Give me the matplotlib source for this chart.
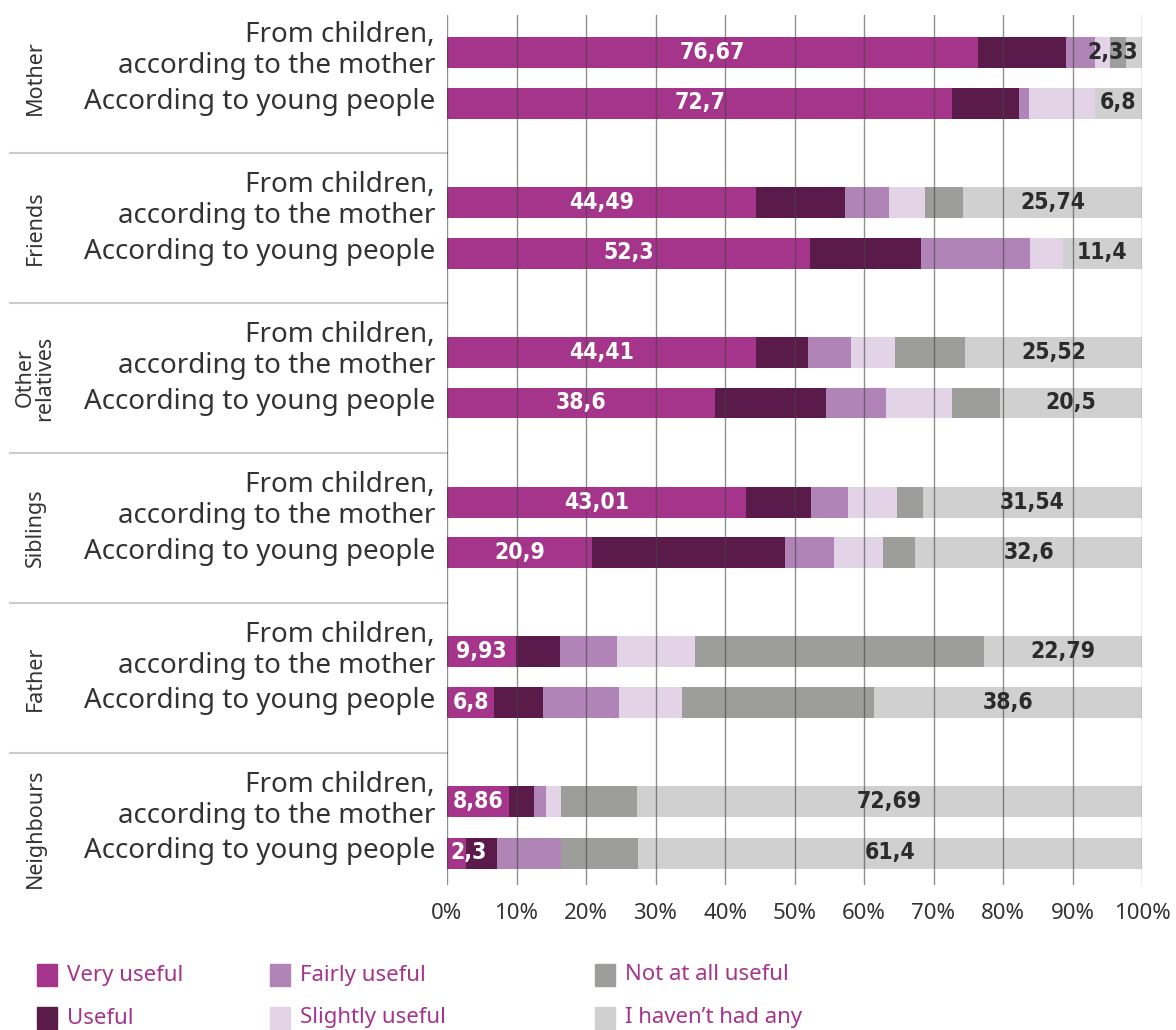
import numpy as np
import matplotlib
matplotlib.use('Agg')
import matplotlib.pyplot as plt
from matplotlib.patches import Rectangle
import matplotlib.transforms as mtransforms

# ─── data ─────────────────────────────────────────────────────────────────
groups = ["Mother", "Friends", "Other\nrelatives", "Siblings", "Father", "Neighbours"]
sub_labels = ["From children,\naccording to the mother", "According to young people"]
categories = ["Very useful", "Useful", "Fairly useful", "Slightly useful",
              "Not at all useful", "I haven\u2019t had any"]
colors = ["#a5358a", "#5a1a4a", "#b184b7", "#e2d3e7", "#9d9d9b", "#d0d0d0"]

# rows: per group -> (children according to mother, young people)
very_useful     = [76.67, 72.7, 44.49, 52.3, 44.41, 38.6, 43.01, 20.9, 9.93, 6.8, 8.86, 2.3]
useful          = [12.58, 9.6, 12.8, 15.9, 7.5, 15.9, 9.4, 27.8, 6.3, 7.0, 3.6, 3.8]
fairly_useful   = [4.2, 1.5, 6.3, 15.8, 6.2, 8.6, 5.3, 7.0, 8.3, 10.9, 1.8, 7.8]
slightly_useful = [2.2, 9.4, 5.2, 4.7, 6.3, 9.5, 7.0, 7.1, 11.1, 9.1, 2.2, 0.0]
not_at_all      = [2.3, 0.0, 5.5, 0.0, 10.1, 6.9, 3.7, 4.6, 41.6, 27.6, 10.8, 9.4]
havent_had      = [2.33, 6.8, 25.74, 11.4, 25.52, 20.5, 31.54, 32.6, 22.79, 38.6, 72.69, 61.4]

xticks = np.arange(0, 101, 10)
xtick_labels = [f"{t}%" for t in xticks]

# ─── layout ───────────────────────────────────────────────────────────────
W, H = 1176, 1030
fig = plt.figure(figsize=(W / 100, H / 100), dpi=100)
ax = fig.add_axes([447 / W, 1 - 885 / H, 695 / W, 870 / H])

raw = np.array([very_useful, useful, fairly_useful, slightly_useful,
                not_at_all, havent_had])          # (6 cats, 12 bars)
shares = raw / raw.sum(axis=0) * 100

n_bars = raw.shape[1]
ypos = np.array([3 * (i // 2) + (0.98 if i % 2 == 0 else 2.0) for i in range(n_bars)])

left = np.zeros(n_bars)
for k in range(len(categories)):
    ax.barh(ypos, shares[k], left=left, height=0.62, color=colors[k],
            edgecolor='none', zorder=2)
    left += shares[k]

# value labels
val_font = dict(fontsize=16.5, fontweight='bold', fontstretch='condensed')
for i in range(n_bars):
    v = very_useful[i]
    s = shares[0, i]
    txt = f"{v}".replace('.', ',')
    if s < 6:
        ax.text(0.5, ypos[i], txt, ha='left', va='center', color='white',
                zorder=4, **val_font)
    else:
        ax.text(s / 2, ypos[i], txt, ha='center', va='center', color='white',
                zorder=4, **val_font)
    h = havent_had[i]
    sh = shares[-1, i]
    txt = f"{h}".replace('.', ',')
    if sh < 5:
        ax.text(99.4, ypos[i], txt, ha='right', va='center', color='#2b2b2b',
                zorder=4, **val_font)
    else:
        ax.text(100 - sh / 2, ypos[i], txt, ha='center', va='center',
                color='#2b2b2b', zorder=4, **val_font)

# axes styling
ax.set_xlim(0, 100)
ax.set_ylim((885 - 3) / 50, (15 - 3) / 50)
for sp in ax.spines.values():
    sp.set_visible(False)
ax.set_yticks([])
ax.set_xticks(xticks)
ax.set_xticklabels(xtick_labels, fontsize=16, color='#333333', family='Noto Sans')
ax.tick_params(axis='x', length=0, pad=13)
for t in xticks:
    ax.axvline(t, color='#444444', lw=1, alpha=0.6, zorder=3)

# row labels
trans = mtransforms.blended_transform_factory(ax.transAxes, ax.transData)
for i in range(n_bars):
    ax.text(-12 / 695, ypos[i] - 0.03, sub_labels[i % 2], transform=trans, ha='right',
            va='center', fontsize=20, color='#333333', family='Noto Sans',
            linespacing=1.1, clip_on=False)

# group labels and separators
for g, name in enumerate(groups):
    ax.text(-412 / 695, 3 * g + 1.5, name, transform=trans, rotation=90,
            ha='center', va='center', fontsize=15.5, color='#333333',
            family='Noto Sans', linespacing=0.95, clip_on=False)
    if g > 0:
        ax.plot([-437 / 695, 0], [3 * g, 3 * g], transform=trans, color='#cccccc',
                lw=1.5, clip_on=False, zorder=1)

# legend (manual)
leg_x = [37, 270, 595]
leg_y = [975, 1018]
for k, cat in enumerate(categories):
    cx = leg_x[k // 2]
    cy = leg_y[k % 2]
    fig.add_artist(Rectangle((cx / W, 1 - (cy + 11) / H), 20 / W, 22 / H,
                             transform=fig.transFigure, color=colors[k]))
    fig.text((cx + 30) / W, 1 - cy / H, cat, ha='left', va='center',
             fontsize=16, color='#a5358a', family='Noto Sans')

fig.savefig("out.png", dpi=100)
